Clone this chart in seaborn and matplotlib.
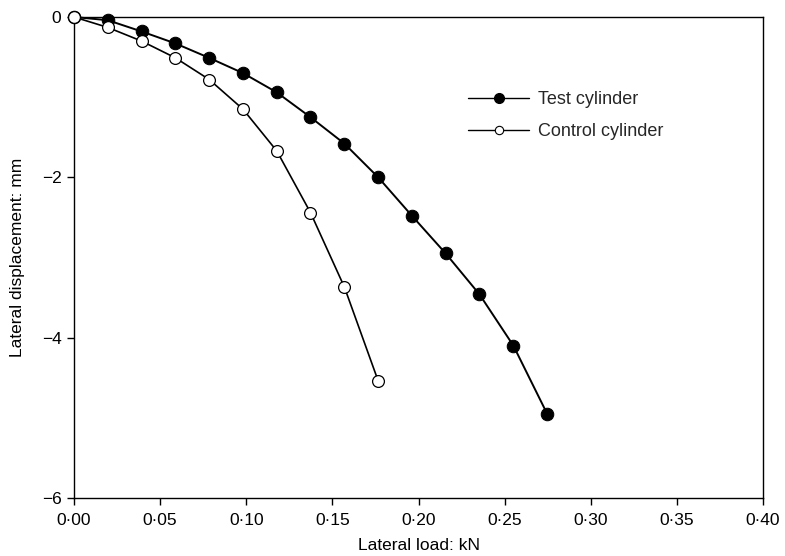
import matplotlib
matplotlib.use("Agg")
import matplotlib.pyplot as plt
from matplotlib.lines import Line2D
import seaborn as sns
import pandas as pd

# Data
load_test = [0.0, 0.0196, 0.0392, 0.0589, 0.0785, 0.0981, 0.1177, 0.1373,
             0.1570, 0.1766, 0.1962, 0.2158, 0.2354, 0.2551, 0.2747]
disp_test = [0.0, -0.04, -0.18, -0.33, -0.51, -0.70, -0.94, -1.25,
             -1.58, -2.00, -2.48, -2.95, -3.46, -4.10, -4.95]
load_control = [0.0, 0.0196, 0.0392, 0.0589, 0.0785, 0.0981, 0.1177, 0.1373,
                0.1570, 0.1766]
disp_control = [0.0, -0.13, -0.30, -0.51, -0.78, -1.15, -1.67, -2.44,
                -3.37, -4.54]
series_names = ["Test cylinder", "Control cylinder"]
x_ticks = [0.00, 0.05, 0.10, 0.15, 0.20, 0.25, 0.30, 0.35, 0.40]
y_ticks = [0, -2, -4, -6]

sns.set_theme(style="white")
plt.rcParams['font.family'] = ['Liberation Sans', 'DejaVu Sans']

df_test = pd.DataFrame({"load": load_test, "disp": disp_test})
df_ctrl = pd.DataFrame({"load": load_control, "disp": disp_control})

fig = plt.figure(figsize=(7.85, 5.56), dpi=100)
ax = fig.add_axes([74/785, 1-498/556, (763-74)/785, (498-17)/556])

sns.lineplot(data=df_test, x="load", y="disp", ax=ax, color="black", lw=1.4,
             marker="o", markersize=9, markerfacecolor="black",
             markeredgecolor="black", sort=False, zorder=3, clip_on=False)
sns.lineplot(data=df_ctrl, x="load", y="disp", ax=ax, color="black", lw=1.2,
             marker="o", markersize=8.5, markerfacecolor="white",
             markeredgecolor="black", markeredgewidth=0.9, sort=False,
             zorder=4, clip_on=False)

ax.set_xlim(0, 0.40)
ax.set_ylim(-6, 0)
ax.set_xticks(x_ticks)
ax.set_xticklabels([f"{v:.2f}".replace(".", "\u00b7") for v in x_ticks])
ax.set_yticks(y_ticks)
ax.set_yticklabels([("\u2212" + str(abs(v))) if v < 0 else str(v) for v in y_ticks])
ax.tick_params(axis="both", which="both", direction="out", length=5, width=1,
               labelsize=12.5, color="black", labelcolor="black",
               bottom=True, left=True, top=False, right=False, pad=4)
ax.tick_params(axis="x", pad=6)
for s in ax.spines.values():
    s.set_color("black")
    s.set_linewidth(1.0)
ax.set_xlabel("Lateral load: kN", fontsize=12.5, color="black", labelpad=7)
ax.set_ylabel("Lateral displacement: mm", fontsize=12.5, color="black", labelpad=12)

handles = [
    Line2D([], [], color="black", lw=1.0, marker="o", markersize=7,
           markerfacecolor="black", markeredgecolor="black"),
    Line2D([], [], color="black", lw=1.0, marker="o", markersize=6,
           markerfacecolor="white", markeredgecolor="black", markeredgewidth=0.8),
]
leg = ax.legend(handles, series_names, loc="upper left",
                bbox_to_anchor=(468/785, 1-91/556), bbox_transform=fig.transFigure,
                frameon=False, fontsize=13, handlelength=3.4, handletextpad=0.5,
                labelspacing=0.85, borderpad=0, borderaxespad=0)

fig.savefig("out.png", dpi=100)
